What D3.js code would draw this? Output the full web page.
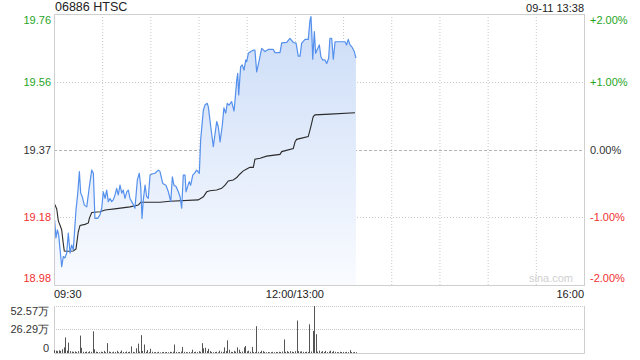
<!DOCTYPE html>
<html>
<head>
<meta charset="utf-8">
<script src="https://cdn.jsdelivr.net/npm/d3@7"></script>
<style>
  body { margin: 0; background: #fff; }
  svg { display: block; font-family: Arial, "Liberation Sans", sans-serif; }
</style>
</head>
<body>
<svg id="chart" width="640" height="360"></svg>
<script>
// header texts
const stockName = "06886 HTSC";
const stamp = "09-11 13:38";
const prevClose = 19.37;
const pctTicks = [2, 1, 0, -1, -2];

// time axis (minutes after 09:30, lunch break removed: 330 trading minutes)
const totalMinutes = 330;
const timeTickMinutes = [0, 150, 330];
const timeTickLabels = ["09:30", "12:00/13:00", "16:00"];

// last price
const priceMinutes = [0.4, 1.2, 2.1, 2.9, 4.8, 5.8, 6.8, 7.9, 8.9, 10.0, 11.0, 12.0, 13.7, 14.8, 15.8, 16.6, 17.6, 18.9, 20.4, 22.0,
  23.5, 24.5, 25.5, 27.2, 28.6, 29.7, 30.7, 31.8, 32.8, 33.8, 34.9, 35.9, 36.9, 38.0, 39.0, 40.0, 41.1, 42.2, 43.1, 44.2,
  45.3, 46.3, 47.3, 49.0, 50.4, 51.9, 53.1, 54.0, 54.8, 55.6, 56.7, 57.7, 58.7, 59.8, 61.0, 62.9, 64.9, 66.0, 67.7, 69.7,
  71.2, 72.7, 73.7, 74.7, 76.0, 77.4, 78.5, 79.5, 80.5, 81.6, 82.2, 83.2, 84.2, 85.1, 86.4, 87.4, 88.8, 90.5, 91.3, 93.0,
  94.0, 95.4, 96.1, 97.6, 99.2, 101.3, 102.3, 103.4, 104.8, 105.8, 106.9, 107.9, 109.0, 110.6, 112.1, 113.0, 113.8, 114.4, 115.0, 116.2,
  117.2, 118.3, 119.4, 120.0, 121.0, 122.5, 124.1, 125.1, 126.2, 127.6, 129.3, 131.4, 133.4, 136.5, 137.6, 140.7, 141.8, 144.9, 146.9, 149.0,
  150.7, 152.1, 153.2, 154.2, 156.3, 158.3, 159.4, 160.0, 160.6, 161.1, 162.1, 162.9, 163.9, 165.2, 166.2, 167.3, 168.7, 169.8, 171.0, 171.8,
  172.9, 173.9, 175.0, 181.2, 182.2, 183.2, 184.3, 185.4, 187.0, 188.0];
const prices = [19.168, 19.117, 19.140, 19.126, 19.035, 19.064, 19.060, 19.074, 19.131, 19.074, 19.097, 19.083, 19.197, 19.246, 19.307, 19.246, 19.235, 19.211, 19.206, 19.264,
  19.311, 19.302, 19.173, 19.173, 19.183, 19.202, 19.249, 19.230, 19.254, 19.221, 19.230, 19.221, 19.226, 19.240, 19.259, 19.240, 19.268, 19.245, 19.254, 19.230,
  19.249, 19.254, 19.230, 19.216, 19.202, 19.283, 19.302, 19.264, 19.173, 19.226, 19.268, 19.235, 19.230, 19.297, 19.300, 19.302, 19.311, 19.307, 19.273, 19.268,
  19.249, 19.221, 19.292, 19.268, 19.264, 19.249, 19.235, 19.202, 19.297, 19.297, 19.249, 19.264, 19.278, 19.268, 19.297, 19.302, 19.311, 19.302, 19.397, 19.483,
  19.497, 19.502, 19.492, 19.435, 19.378, 19.450, 19.435, 19.392, 19.440, 19.489, 19.474, 19.502, 19.497, 19.507, 19.480, 19.526, 19.569, 19.588, 19.526, 19.607,
  19.612, 19.597, 19.626, 19.621, 19.645, 19.650, 19.654, 19.654, 19.592, 19.621, 19.659, 19.650, 19.656, 19.656, 19.647, 19.647, 19.675, 19.676, 19.688, 19.676,
  19.674, 19.637, 19.637, 19.674, 19.685, 19.685, 19.740, 19.750, 19.692, 19.628, 19.707, 19.645, 19.656, 19.669, 19.635, 19.626, 19.626, 19.616, 19.631, 19.688,
  19.688, 19.628, 19.678, 19.678, 19.669, 19.685, 19.669, 19.664, 19.650, 19.631];

// average price
const avgMinutes = [0.2, 1.7, 2.7, 3.7, 4.8, 5.8, 6.4, 8.1, 12.0, 13.7, 15.1, 16.2, 19.3, 21.4, 22.0, 23.5, 28.6, 31.8, 39.0, 47.3,
  52.5, 54.0, 66.0, 72.2, 89.8, 93.0, 95.1, 97.1, 101.3, 104.4, 106.5, 108.5, 111.6, 113.8, 115.8, 117.9, 120.0, 122.0, 124.1, 125.1,
  128.3, 132.4, 140.7, 141.8, 149.0, 150.1, 151.1, 158.3, 160.0, 161.4, 162.5, 171.8, 187.4];
const avgPrices = [19.216, 19.200, 19.166, 19.154, 19.140, 19.100, 19.080, 19.079, 19.080, 19.086, 19.134, 19.153, 19.156, 19.160, 19.173, 19.190, 19.192, 19.197, 19.201, 19.206,
  19.211, 19.219, 19.219, 19.222, 19.226, 19.235, 19.249, 19.252, 19.254, 19.259, 19.268, 19.280, 19.283, 19.290, 19.300, 19.309, 19.314, 19.319, 19.319, 19.342,
  19.345, 19.351, 19.356, 19.364, 19.373, 19.392, 19.399, 19.407, 19.437, 19.464, 19.469, 19.471, 19.475];

// volume per minute, in 万 shares (minute 0 .. 188)
const volumes = [3.2, 2.6, 2.1, 3.0, 2.4, 4.2, 6.3, 17.4, 2.6, 11.6,
  2.1, 1.6, 1.3, 1.8, 1.1, 2.0, 19.5, 5.8, 1.4, 1.2,
  1.6, 1.0, 1.9, 1.3, 24.2, 4.2, 1.5, 1.1, 0.9, 1.4,
  1.2, 2.3, 1.0, 11.0, 1.6, 1.2, 0.8, 1.5, 1.1, 2.4,
  1.0, 1.3, 2.8, 1.2, 0.9, 1.7, 1.1, 1.4, 7.4, 1.2,
  0.9, 5.3, 10.5, 1.6, 20.0, 2.2, 9.5, 1.3, 3.2, 1.0,
  4.7, 1.4, 0.9, 1.1, 0.8, 1.3, 0.7, 1.0, 1.2, 0.9,
  1.1, 0.8, 1.3, 1.0, 1.4, 9.5, 1.2, 0.9, 1.1, 1.6,
  6.8, 1.3, 1.0, 0.8, 1.2, 0.9, 3.7, 1.1, 1.4, 1.0,
  2.0, 1.3, 11.0, 5.3, 5.8, 2.1, 4.7, 2.1, 1.2, 0.9,
  1.1, 1.4, 0.8, 2.6, 1.5, 1.2, 6.3, 2.1, 14.2, 3.7,
  1.3, 1.1, 2.4, 1.5, 6.3, 3.7, 1.2, 1.6, 6.3, 7.9,
  1.8, 2.6, 1.4, 6.8, 1.2, 1.0, 30.0, 1.3, 1.1, 2.6,
  2.1, 1.2, 0.9, 1.1, 0.8, 1.0, 1.3, 0.9, 1.2, 1.0,
  1.4, 1.1, 1.6, 15.2, 1.3, 2.1, 1.2, 2.1, 1.5, 1.1,
  2.0, 36.3, 2.1, 1.6, 1.8, 1.3, 1.1, 1.4, 1.2, 32.1,
  1.6, 24.7, 52.57, 21.0, 1.5, 2.6, 1.3, 2.1, 1.1, 2.4,
  1.0, 1.6, 2.6, 1.2, 2.1, 1.3, 1.0, 0.9, 1.4, 1.1,
  1.2, 0.9, 1.3, 1.0, 3.2, 1.1, 0.8, 1.2, 0.9];
const volTicks = [52.57, 26.29, 0];
const volTickLabels = ["52.57万", "26.29万", "0"];

// colours
const upColor = "#1fa51f", downColor = "#f03030", flatColor = "#333";
const gridColor = "#c8c8c8", borderColor = "#cfcfcf";

const plot = { left: 54, right: 584, top: 14, bottom: 285 };
const volBox = { top: 306, bottom: 353 };

const svg = d3.select("#chart");

const x = d3.scaleLinear().domain([0, totalMinutes]).range([plot.left, plot.right]);
const y = d3.scaleLinear()
  .domain([prevClose * 0.98, prevClose * 1.02])
  .range([plot.bottom, plot.top]);
const yVol = d3.scaleLinear().domain([0, d3.max(volumes)]).range([volBox.bottom, volBox.top]);

const pctColor = p => p > 0 ? upColor : (p < 0 ? downColor : flatColor);

// gradient for the area
const defs = svg.append("defs");
const grad = defs.append("linearGradient")
  .attr("id", "areaGrad")
  .attr("gradientUnits", "userSpaceOnUse")
  .attr("x1", 0).attr("x2", 0)
  .attr("y1", plot.top).attr("y2", plot.bottom);
grad.append("stop").attr("offset", "0%").attr("stop-color", "#cbdcf7");
grad.append("stop").attr("offset", "100%").attr("stop-color", "#f9fbff");

// vertical grid, every 30 minutes
const gridMins = d3.range(30, totalMinutes, 30);
svg.append("g").selectAll("line")
  .data(gridMins)
  .join("line")
  .attr("x1", d => x(d) + 0.5).attr("x2", d => x(d) + 0.5)
  .attr("y1", plot.top).attr("y2", plot.bottom)
  .attr("stroke", gridColor)
  .attr("stroke-dasharray", "1,2");

// horizontal grid
svg.append("g").selectAll("line")
  .data(pctTicks.filter(p => Math.abs(p) < 2))
  .join("line")
  .attr("x1", plot.left).attr("x2", plot.right)
  .attr("y1", d => Math.round(y(prevClose * (1 + d / 100))) + 0.5)
  .attr("y2", d => Math.round(y(prevClose * (1 + d / 100))) + 0.5)
  .attr("stroke", d => d === 0 ? "#b4b4b4" : gridColor)
  .attr("stroke-dasharray", d => d === 0 ? "3,2" : "1,2");

// price area + line
const pts = priceMinutes.map((m, i) => [m, prices[i]]);
const area = d3.area()
  .x(d => x(d[0]))
  .y0(plot.bottom)
  .y1(d => y(d[1]));
svg.append("path")
  .datum(pts)
  .attr("d", area)
  .attr("fill", "url(#areaGrad)");

const avgPts = avgMinutes.map((m, i) => [m, avgPrices[i]]);
const line = d3.line().x(d => x(d[0])).y(d => y(d[1]));

svg.append("path")
  .datum(avgPts)
  .attr("d", line)
  .attr("fill", "none")
  .attr("stroke", "#2b2b2b")
  .attr("stroke-width", 1.1);

svg.append("path")
  .datum(pts)
  .attr("d", line)
  .attr("fill", "none")
  .attr("stroke", "#5490ec")
  .attr("stroke-width", 1.2)
  .attr("stroke-linejoin", "round");

// border of price panel
svg.append("rect")
  .attr("x", plot.left + 0.5).attr("y", plot.top + 0.5)
  .attr("width", plot.right - plot.left).attr("height", plot.bottom - plot.top)
  .attr("fill", "none")
  .attr("stroke", borderColor);

// watermark
svg.append("text")
  .attr("x", plot.right - 11).attr("y", plot.bottom - 3)
  .attr("text-anchor", "end")
  .attr("font-size", 11)
  .attr("fill", "#d0d0d0")
  .text("sina.com");

// price labels (left) and percent labels (right)
pctTicks.forEach(p => {
  const v = prevClose * (1 + p / 100);
  let yy = y(v) + 4;
  if (p === 2) yy += 6;
  if (p === -2) yy -= 7;
  svg.append("text")
    .attr("x", plot.left - 3).attr("y", yy)
    .attr("text-anchor", "end")
    .attr("font-size", 11)
    .attr("fill", pctColor(p))
    .text(v.toFixed(2));
  svg.append("text")
    .attr("x", plot.right + 6).attr("y", yy)
    .attr("font-size", 11)
    .attr("fill", pctColor(p))
    .text((p > 0 ? "+" : "") + p.toFixed(2) + "%");
});

// header
svg.append("text")
  .attr("x", plot.left + 1).attr("y", 11)
  .attr("font-size", 12.5)
  .attr("fill", "#222")
  .text(stockName);
svg.append("text")
  .attr("x", plot.right).attr("y", 11.5)
  .attr("text-anchor", "end")
  .attr("font-size", 11)
  .attr("fill", "#222")
  .text(stamp);

// time labels
timeTickMinutes.forEach((m, i) => {
  svg.append("text")
    .attr("x", x(m))
    .attr("y", 298)
    .attr("text-anchor", i === 0 ? "start" : (i === timeTickMinutes.length - 1 ? "end" : "middle"))
    .attr("font-size", 11)
    .attr("fill", "#222")
    .text(timeTickLabels[i]);
});

// volume panel
svg.append("line")
  .attr("x1", plot.left).attr("x2", plot.right)
  .attr("y1", volBox.top + 0.5).attr("y2", volBox.top + 0.5)
  .attr("stroke", gridColor).attr("stroke-dasharray", "1,1");
svg.append("line")
  .attr("x1", plot.left).attr("x2", plot.right)
  .attr("y1", Math.round(yVol(volTicks[1])) + 0.5).attr("y2", Math.round(yVol(volTicks[1])) + 0.5)
  .attr("stroke", gridColor).attr("stroke-dasharray", "1,1");
svg.append("path")
  .attr("d", `M${plot.left + 0.5},${volBox.top}V${volBox.bottom + 0.5}H${plot.right + 0.5}V${volBox.top}`)
  .attr("fill", "none")
  .attr("stroke", borderColor);

svg.append("g").selectAll("rect")
  .data(volumes)
  .join("rect")
  .attr("x", (d, i) => Math.round(x(i)))
  .attr("width", 1)
  .attr("y", d => yVol(d))
  .attr("height", d => volBox.bottom - yVol(d))
  .attr("fill", "#555");

volTicks.forEach((v, i) => {
  let yy = yVol(v) + 4;
  if (i === 0) yy += 5;
  if (i === volTicks.length - 1) yy -= 5;
  svg.append("text")
    .attr("x", plot.left - 5).attr("y", yy)
    .attr("text-anchor", "end")
    .attr("font-size", 11)
    .attr("fill", "#333")
    .text(volTickLabels[i]);
});
</script>
</body>
</html>
